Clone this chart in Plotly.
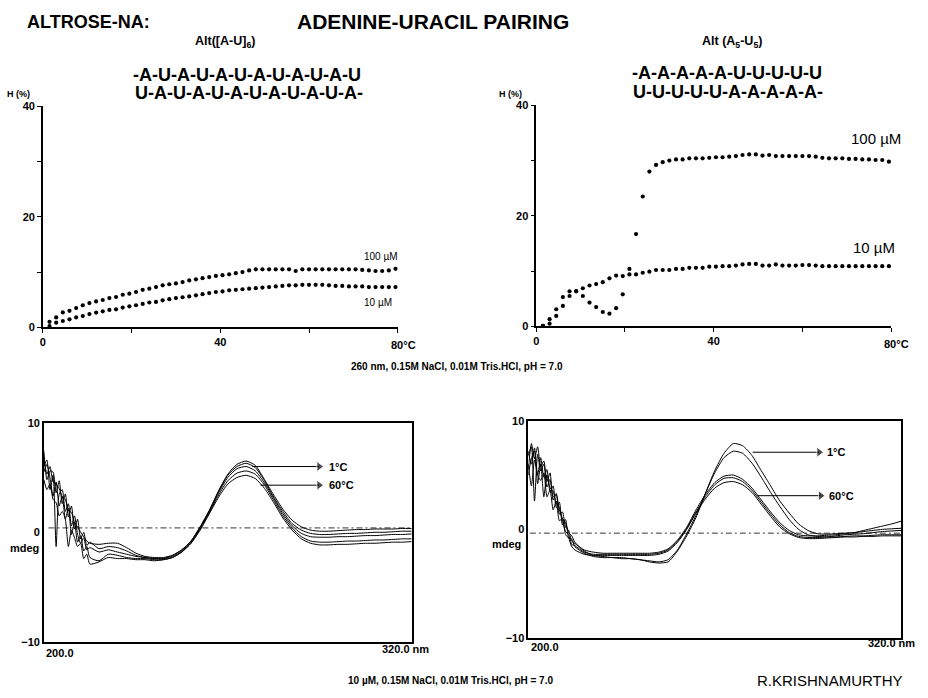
import plotly.graph_objects as go

# ---------------- data ----------------
temps = [1.5, 3.0, 4.5, 6.0, 7.5, 9.0, 10.5, 12.0, 13.5, 15.0, 16.5, 18.0, 19.5, 21.0,
         22.5, 24.0, 25.5, 27.0, 28.5, 30.0, 31.5, 33.0, 34.5, 36.0, 37.5, 39.0, 40.5,
         42.0, 43.5, 45.0, 46.5, 48.0, 49.5, 51.0, 52.5, 54.0, 55.5, 57.0, 58.5, 60.0,
         61.5, 63.0, 64.5, 66.0, 67.5, 69.0, 70.5, 72.0, 73.5, 75.0, 76.5, 78.0, 79.5]

# Alt([A-U]6) hyperchromicity (%)
au6_100uM = [1.0, 1.8, 2.7, 3.0, 3.5, 4.0, 4.4, 4.7, 4.95, 5.3, 5.5, 5.9, 6.1, 6.4, 6.8,
             7.0, 7.3, 7.6, 7.8, 7.95, 8.2, 8.5, 8.7, 8.9, 9.1, 9.3, 9.45, 9.6, 9.8, 10.0,
             10.3, 10.5, 10.5, 10.5, 10.5, 10.5, 10.5, 10.2, 10.5, 10.5, 10.5, 10.5, 10.5,
             10.5, 10.5, 10.5, 10.5, 10.4, 10.3, 10.2, 10.2, 10.3, 10.6]
au6_10uM = [0.24, 0.85, 1.15, 1.45, 1.8, 2.06, 2.4, 2.67, 2.9, 3.15, 3.27, 3.58, 3.8, 4.0,
            4.24, 4.5, 4.6, 4.9, 5.1, 5.3, 5.45, 5.6, 5.8, 6.0, 6.2, 6.4, 6.5, 6.7, 6.8,
            6.9, 7.0, 7.1, 7.2, 7.3, 7.4, 7.5, 7.6, 7.6, 7.7, 7.7, 7.7, 7.7, 7.6, 7.5, 7.5,
            7.4, 7.4, 7.4, 7.3, 7.3, 7.3, 7.3, 7.3]

# Alt(A5-U5) hyperchromicity (%)
a5u5_100uM = [0.1, 0.5, 1.9, 3.7, 5.5, 6.35, 5.5, 4.3, 3.5, 2.6, 2.3, 3.3, 5.8, 10.4, 16.7,
              23.5, 28.0, 29.2, 29.7, 30.0, 30.2, 30.2, 30.4, 30.4, 30.4, 30.5, 30.6, 30.6,
              30.7, 30.8, 31.0, 31.1, 31.1, 30.9, 31.0, 30.8, 30.8, 30.8, 30.8, 30.8, 30.8,
              30.7, 30.5, 30.4, 30.4, 30.4, 30.3, 30.3, 30.2, 30.2, 30.1, 30.1, 29.8]
a5u5_10uM = [0.1, 1.3, 3.1, 5.3, 6.35, 6.4, 6.9, 7.4, 7.65, 8.0, 8.7, 9.2, 9.1, 9.4, 9.4,
             9.7, 9.9, 10.2, 10.2, 10.2, 10.4, 10.4, 10.6, 10.6, 10.6, 10.8, 10.8, 10.9,
             10.9, 11.0, 11.2, 11.3, 11.3, 11.0, 11.0, 11.2, 11.0, 11.0, 11.0, 11.1, 11.1,
             11.0, 10.9, 10.9, 10.9, 10.9, 10.9, 10.9, 10.9, 10.9, 10.9, 10.9, 10.9]

temp_ticks = [0, 40]
temp_ticktext = ["0", "40"]
temp_minor = [20, 60, 80]
h_ticks = [0, 20, 40]
h_minor = [10, 30]

# CD spectra wavelengths (nm)
wl = [200, 201, 202, 203, 204, 205, 206, 207, 208, 209, 210, 211, 212, 213, 214, 215,
      218, 221, 224, 227, 230, 233, 236, 239, 242, 245, 248, 251, 254, 257, 260, 263,
      266, 269, 272, 275, 278, 281, 284, 287, 290, 293, 296, 299, 302, 305, 308, 311,
      314, 317, 320]

# Alt([A-U]6) CD, mdeg, 1 C ... 60 C
cd_au6 = [
    [6.8, 5.3, 6.0, 4.6, 4.4, 4.0, 3.2, 3.0, 2.0, 1.8, 0.9, 0.5, 0.0, -0.4, -0.8, -1.0,
     -1.1, -1.0, -1.0, -1.4, -1.9, -2.2, -2.3, -2.3, -2.1, -1.6, -0.8, 0.5, 2.0, 3.8, 5.3,
     6.2, 6.5, 6.1, 4.8, 3.4, 2.1, 1.1, 0.5, 0.2, 0.1, 0.1, 0.15, 0.2, 0.25, 0.25, 0.3,
     0.3, 0.3, 0.35, 0.35],
    [7.4, 4.8, 5.6, 5.5, 3.6, 4.7, 2.6, 3.5, 1.4, 2.4, 0.3, 1.2, -0.6, 0.0, -1.2, -0.9,
     -1.5, -1.3, -1.4, -1.7, -2.1, -2.3, -2.4, -2.4, -2.1, -1.6, -0.8, 0.5, 2.0, 3.7, 5.2,
     6.0, 6.3, 5.9, 4.7, 3.2, 1.9, 0.8, 0.2, -0.1, -0.2, -0.2, -0.15, -0.1, -0.1, -0.05,
     0.0, 0.0, 0.05, 0.1, 0.1],
    [6.0, 6.6, 3.9, 5.2, -1.3, 3.5, 3.9, 1.9, 2.6, 0.6, 1.5, -0.2, -1.0, -0.5, -1.6, -1.4,
     -1.8, -1.6, -1.8, -2.0, -2.2, -2.3, -2.4, -2.4, -2.2, -1.7, -0.9, 0.4, 1.9, 3.6, 5.0,
     5.8, 6.0, 5.6, 4.5, 3.1, 1.7, 0.6, -0.1, -0.4, -0.45, -0.45, -0.4, -0.4, -0.35, -0.3,
     -0.3, -0.25, -0.2, -0.2, -0.15],
    [5.5, 6.2, 5.0, 3.3, 4.6, 2.4, 3.3, 1.2, 2.2, -0.2, 0.9, -0.9, -0.3, -1.7, -1.3, -2.3,
     -2.6, -2.0, -2.1, -2.3, -2.4, -2.4, -2.5, -2.5, -2.3, -1.8, -1.0, 0.3, 1.8, 3.4, 4.7,
     5.4, 5.6, 5.3, 4.3, 2.9, 1.5, 0.4, -0.4, -0.8, -0.9, -0.9, -0.85, -0.8, -0.8, -0.75,
     -0.7, -0.7, -0.65, -0.6, -0.6],
    [4.8, 3.9, 4.4, 3.0, 2.7, 1.5, 1.9, 1.2, -1.3, 0.2, -0.5, -1.3, -1.0, -2.4, -2.0, -2.9,
     -2.7, -2.3, -2.4, -2.4, -2.5, -2.5, -2.6, -2.5, -2.3, -1.8, -1.0, 0.2, 1.7, 3.2, 4.4,
     5.0, 5.2, 4.9, 4.0, 2.7, 1.3, 0.2, -0.6, -1.0, -1.15, -1.15, -1.1, -1.1, -1.05, -1.0,
     -1.0, -0.95, -0.9, -0.9, -0.85],
]

# Alt(A5-U5) CD, mdeg
cd_a5u5 = [
    [5.5, 7.9, 6.5, 7.6, 5.8, 6.3, 4.4, 5.2, 3.0, 3.2, 1.8, 1.0, 0.6, -0.3, -0.6, -1.2,
     -2.0, -2.4, -2.5, -2.6, -2.6, -2.7, -2.8, -3.0, -3.1, -3.0, -2.0, -0.6, 1.1, 3.3, 5.4,
     7.0, 7.9, 7.7, 6.8, 5.4, 4.0, 2.6, 1.5, 0.5, -0.1, -0.4, -0.45, -0.4, -0.35, -0.3,
     -0.2, -0.1, 0.0, 0.05, 0.1],
    [7.2, 6.0, 7.5, 5.0, 6.6, 4.8, 5.5, 3.5, 4.0, 2.0, 2.5, 0.4, 0.9, -0.8, -0.9, -1.6,
     -2.2, -2.5, -2.6, -2.6, -2.7, -2.7, -2.8, -2.9, -3.0, -2.8, -1.9, -0.4, 1.3, 3.3, 5.2,
     6.6, 7.2, 7.0, 6.1, 4.8, 3.4, 2.1, 0.9, 0.0, -0.5, -0.65, -0.7, -0.7, -0.65, -0.6,
     -0.6, -0.55, -0.5, -0.5, -0.5],
    [6.8, 7.6, 2.6, 6.9, 5.4, 6.0, 3.9, 4.6, 2.7, 3.3, 1.4, 1.6, 0.2, -0.1, -1.1, -1.3,
     -1.9, -2.1, -2.2, -2.2, -2.2, -2.2, -2.2, -2.2, -2.1, -1.8, -1.0, 0.2, 1.8, 3.2, 4.3,
     4.9, 5.0, 4.6, 3.8, 2.7, 1.6, 0.6, -0.1, -0.5, -0.6, -0.6, -0.55, -0.5, -0.4, -0.3,
     -0.1, 0.1, 0.3, 0.5, 0.75],
    [5.0, 6.5, 7.2, 4.2, 6.0, 3.0, 5.0, 3.8, 3.5, 2.4, 2.0, 0.8, -0.2, -0.5, -1.4, -1.5,
     -2.1, -2.3, -2.3, -2.3, -2.3, -2.3, -2.3, -2.3, -2.2, -1.9, -1.1, 0.1, 1.6, 3.0, 4.1,
     4.7, 4.75, 4.4, 3.6, 2.5, 1.4, 0.4, -0.3, -0.65, -0.75, -0.75, -0.7, -0.6, -0.5,
     -0.45, -0.4, -0.3, -0.2, -0.15, -0.1],
    [6.0, 4.0, 6.4, 5.0, 4.5, 5.2, 3.0, 3.6, 1.8, 2.6, 0.8, 1.0, -0.5, -0.8, -1.6, -1.9,
     -2.3, -2.4, -2.4, -2.4, -2.4, -2.4, -2.4, -2.4, -2.3, -2.0, -1.2, 0.0, 1.5, 2.8, 3.8,
     4.3, 4.4, 4.1, 3.4, 2.3, 1.2, 0.2, -0.4, -0.75, -0.85, -0.85, -0.8, -0.75, -0.7,
     -0.7, -0.65, -0.65, -0.6, -0.6, -0.6],
]

baseline_au6 = 0.4
baseline_a5u5 = -0.35
cd_ticks = [-10, 0, 10]

# ---------------- figure ----------------
W, H = 928, 698


def px(x):
    return x / W


def py(y):
    return 1 - y / H


FONT = "Liberation Sans"
fig = go.Figure()

dot = dict(color="black", size=4.2)
for axx, axy, s1, s2 in [("x", "y", au6_100uM, au6_10uM),
                         ("x2", "y2", a5u5_100uM, a5u5_10uM)]:
    for s in (s1, s2):
        fig.add_trace(go.Scatter(x=temps, y=s, mode="markers", marker=dot,
                                 xaxis=axx, yaxis=axy, cliponaxis=False,
                                 showlegend=False, hoverinfo="skip"))

for axx, axy, curves, base, x0 in [("x3", "y3", cd_au6, baseline_au6, 201.5),
                                   ("x4", "y4", cd_a5u5, baseline_a5u5, 200.5)]:
    fig.add_trace(go.Scatter(x=[x0, wl[-1]], y=[base, base], mode="lines",
                             line=dict(color="black", width=0.8, dash="6px,3px,2px,3px"),
                             xaxis=axx, yaxis=axy, showlegend=False, hoverinfo="skip"))
    for c in curves:
        fig.add_trace(go.Scatter(x=wl, y=c, mode="lines",
                                 line=dict(color="black", width=1, shape="spline", smoothing=0.6),
                                 xaxis=axx, yaxis=axy, showlegend=False, hoverinfo="skip"))

# arrows on CD spectra (line + triangle head)
arrows = [("x3", "y3", 268.0, 291.0, 6.0, "1°C", 292.5),
          ("x3", "y3", 270.7, 291.0, 4.3, "60°C", 292.5),
          ("x4", "y4", 272.2, 294.8, 7.1, "1°C", 295.5),
          ("x4", "y4", 273.8, 295.3, 3.1, "60°C", 296.3)]
for xr, yr, x_tail, x_head, yv, label, x_text in arrows:
    fig.add_trace(go.Scatter(x=[x_tail, x_head - 1.2], y=[yv, yv], mode="lines+markers",
                             line=dict(color="black", width=1),
                             marker=dict(symbol="triangle-right", size=[0, 9], color="black"),
                             xaxis=xr, yaxis=yr, showlegend=False, hoverinfo="skip"))

top_axis = dict(showline=True, linecolor="black", linewidth=1.5, ticks="outside",
                ticklen=4, tickwidth=1.2, tickcolor="black", showgrid=False,
                zeroline=False, tickfont=dict(family=FONT, size=11, color="black", weight="bold"))
box_axis = dict(showline=True, mirror=True, linecolor="black", linewidth=1.5,
                showgrid=False, zeroline=False, ticks="")
minor_x = dict(tickvals=temp_minor, ticks="outside", ticklen=4, tickwidth=1.2,
               tickcolor="black", showgrid=False)
minor_y = dict(tickvals=h_minor, ticks="outside", ticklen=4, tickwidth=1.2,
               tickcolor="black", showgrid=False)

fig.update_layout(
    width=W, height=H, margin=dict(l=0, r=0, t=0, b=0),
    paper_bgcolor="white", plot_bgcolor="white", showlegend=False,
    font=dict(family=FONT, color="black"),
    xaxis=dict(top_axis, domain=[px(40), px(396)], range=[0, 80], tickvals=temp_ticks,
               ticktext=temp_ticktext, minor=minor_x, anchor="y"),
    yaxis=dict(top_axis, domain=[py(327), py(102)], range=[0, 40], tickvals=h_ticks,
               minor=minor_y, anchor="x"),
    xaxis2=dict(top_axis, domain=[px(535), px(891)], range=[0, 80], tickvals=temp_ticks,
                ticktext=temp_ticktext, minor=minor_x, anchor="y2"),
    yaxis2=dict(top_axis, domain=[py(326), py(101)], range=[0, 40], tickvals=h_ticks,
                minor=minor_y, anchor="x2"),
    xaxis3=dict(box_axis, domain=[px(41), px(410)], range=[200, 320], showticklabels=False,
                anchor="y3"),
    yaxis3=dict(box_axis, domain=[py(647), py(424)], range=[-10, 10], tickvals=cd_ticks,
                tickfont=dict(family=FONT, size=11, color="black", weight="bold"),
                anchor="x3"),
    xaxis4=dict(box_axis, domain=[px(527), px(901)], range=[200, 320], showticklabels=False,
                anchor="y4"),
    yaxis4=dict(box_axis, domain=[py(643), py(422)], range=[-10, 10], tickvals=cd_ticks,
                tickfont=dict(family=FONT, size=11, color="black", weight="bold"),
                anchor="x4"),
)

ann = []


def text(x, y, s, size=11, bold=False, xanchor="center", family=FONT):
    ann.append(dict(x=px(x), y=py(y), xref="paper", yref="paper", text=s, showarrow=False,
                    xanchor=xanchor, yanchor="middle",
                    font=dict(family=family, size=size, color="black",
                              weight="bold" if bold else "normal")))


text(22, 16, "ALTROSE-NA:", 18, True, "left")
text(293, 16, "ADENINE-URACIL PAIRING", 21, True, "left")
text(223, 37, "Alt([A-U]<sub>6</sub>)", 12.5, True)
text(731, 37, "Alt (A<sub>5</sub>-U<sub>5</sub>)", 12.5, True)
text(128, 70, "-A-U-A-U-A-U-A-U-A-U-A-U", 18, True, "left")
text(130, 89, "U-A-U-A-U-A-U-A-U-A-U-A-", 18, True, "left")
text(629, 68, "-A-A-A-A-A-U-U-U-U-U", 18, True, "left")
text(630, 88, "U-U-U-U-U-A-A-A-A-A-", 18, True, "left")
text(2, 90, "H (%)", 9, True, "left")
text(496, 90, "H (%)", 9, True, "left")
text(387, 345, "80°C", 11, True, "left")
text(882, 344, "80°C", 11, True, "left")
text(360, 255, "100 µM", 10, False, "left")
text(360, 302, "10 µM", 10, False, "left")
text(849, 135, "100 µM", 15, False, "left")
text(851, 246, "10 µM", 15, False, "left")
text(455, 367, "260 nm, 0.15M NaCl, 0.01M Tris.HCl, pH = 7.0", 10, True)
text(449, 686, "10 µM, 0.15M NaCl, 0.01M Tris.HCl, pH = 7.0", 10, True)
text(754, 686, "R.KRISHNAMURTHY", 15, False, "left")
text(5, 551, "mdeg", 11, True, "left")
text(489, 547, "mdeg", 11, True, "left")
text(41, 658, "200.0", 11, True, "left")
text(378, 654, "320.0 nm", 11, True, "left")
text(528, 652, "200.0", 11, True, "left")
text(866, 648, "320.0 nm", 11, True, "left")

for xr, yr, x_tail, x_head, yv, label, x_text in arrows:
    ann.append(dict(x=x_text, y=yv, xref=xr, yref=yr, text=label, showarrow=False,
                    xanchor="left", yanchor="middle",
                    font=dict(family=FONT, size=11, color="black", weight="bold")))

fig.update_layout(annotations=ann)
fig.write_html("out.html", config={"displayModeBar": False},
               post_script="document.body.style.margin='0px';"
                           "document.body.style.overflow='hidden';")
